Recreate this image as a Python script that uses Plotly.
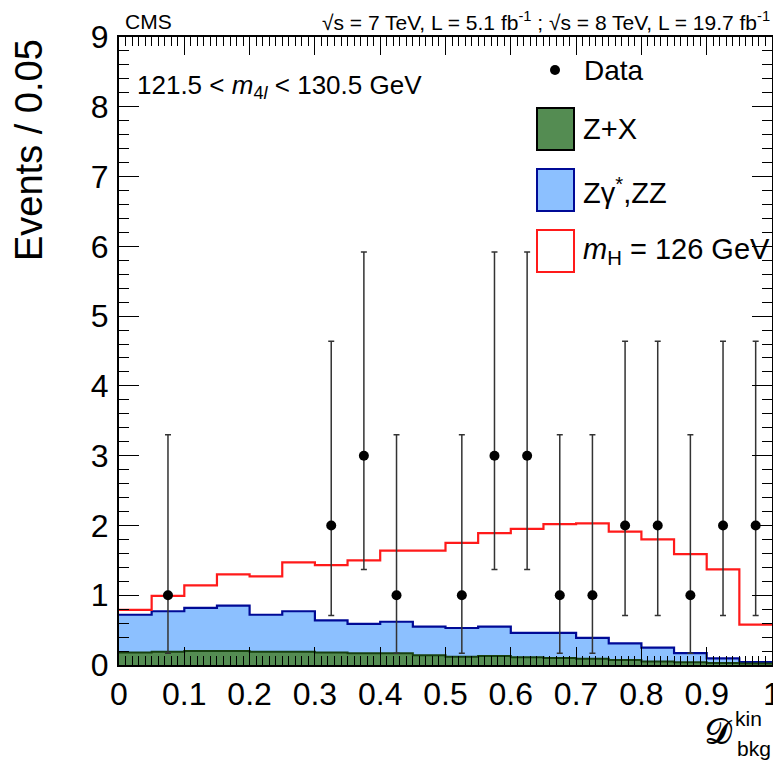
import numpy as np
import plotly.graph_objects as go

# ---------------- data ----------------
bin_edges = [round(0.05 * i, 2) for i in range(21)]
zx_vals = [0.18, 0.19, 0.20, 0.20, 0.19, 0.19, 0.18, 0.17, 0.17, 0.14,
           0.12, 0.13, 0.11, 0.10, 0.09, 0.07, 0.05, 0.04, 0.03, 0.02]
zz_vals = [0.54, 0.58, 0.62, 0.65, 0.53, 0.58, 0.46, 0.42, 0.45, 0.41,
           0.41, 0.42, 0.35, 0.36, 0.30, 0.24, 0.20, 0.13, 0.065, 0.02]
sig_vals = [0.07, 0.22, 0.32, 0.45, 0.55, 0.70, 0.79, 0.91, 1.02, 1.09,
            1.22, 1.34, 1.49, 1.56, 1.64, 1.60, 1.55, 1.42, 1.275, 0.54]

data_x = [0.075, 0.325, 0.375, 0.425, 0.525, 0.575, 0.625, 0.675, 0.725,
          0.775, 0.825, 0.875, 0.925, 0.975]
data_y = [1, 2, 3, 1, 1, 3, 3, 1, 1, 2, 2, 1, 2, 2]
err_up = [2.30, 2.64, 2.92, 2.30, 2.30, 2.92, 2.92, 2.30, 2.30, 2.64, 2.64, 2.30, 2.64, 2.64]
err_dn = [0.83, 1.29, 1.63, 0.83, 0.83, 1.63, 1.63, 0.83, 0.83, 1.29, 1.29, 0.83, 1.29, 1.29]

x_ticks = [0, 0.1, 0.2, 0.3, 0.4, 0.5, 0.6, 0.7, 0.8, 0.9, 1]
x_tick_text = ["0", "0.1", "0.2", "0.3", "0.4", "0.5", "0.6", "0.7", "0.8", "0.9", "1"]
y_ticks = [0, 1, 2, 3, 4, 5, 6, 7, 8, 9]

# ---------------- derived stacks ----------------
zx = np.array(zx_vals)
bkg = zx + np.array(zz_vals)
tot = bkg + np.array(sig_vals)

def step(v):
    v = list(v)
    return v + [v[-1]]

FONT = "Liberation Sans, Arial, Helvetica, sans-serif"
GREEN_FILL = "#548c52"
GREEN_LINE = "#17400f"
BLUE_FILL = "#8cc0ff"
BLUE_LINE = "#000a96"
RED = "#ff1a1a"

fig = go.Figure()
fig.add_trace(go.Scatter(x=bin_edges, y=step(bkg), mode="lines", line_shape="hv",
                         line=dict(color=BLUE_LINE, width=2.2), fill="tozeroy",
                         fillcolor=BLUE_FILL, showlegend=False, hoverinfo="skip"))
fig.add_trace(go.Scatter(x=bin_edges, y=step(zx), mode="lines", line_shape="hv",
                         line=dict(color=GREEN_LINE, width=2), fill="tozeroy",
                         fillcolor=GREEN_FILL, showlegend=False, hoverinfo="skip"))
fig.add_trace(go.Scatter(x=bin_edges, y=step(tot), mode="lines", line_shape="hv",
                         line=dict(color=RED, width=2.2), showlegend=False, hoverinfo="skip"))
fig.add_trace(go.Scatter(x=data_x, y=data_y, mode="markers",
                         marker=dict(color="black", size=10),
                         error_y=dict(type="data", symmetric=False, array=err_up,
                                      arrayminus=err_dn, color="#333333",
                                      thickness=1.5, width=3),
                         showlegend=False))

axis_common = dict(showline=True, linecolor="black", linewidth=2, mirror="allticks",
                   ticks="inside", tickcolor="black", showgrid=False, zeroline=False,
                   automargin=False,
                   tickfont=dict(family=FONT, size=32, color="black"))

fig.update_xaxes(range=[0, 1], tickvals=x_ticks, ticktext=x_tick_text, ticklen=18,
                 tickwidth=1.2, ticklabelstandoff=0,
                 minor=dict(ticks="inside", dtick=0.01, tick0=0, ticklen=9,
                            tickcolor="black", tickwidth=1, showgrid=False),
                 **axis_common)
fig.update_yaxes(range=[0, 9], tickvals=y_ticks, ticklen=20, tickwidth=1.2,
                 ticklabelstandoff=2,
                 minor=dict(ticks="inside", dtick=0.2, tick0=0, ticklen=10,
                            tickcolor="black", tickwidth=1, showgrid=False),
                 **axis_common)

# The page body has an 8px margin, so the figure sits at (8, 8) on screen.
OFF = 8
W, H = 781 - OFF, 761 - OFF
L, R, T, B = 119 - OFF, 9, 37 - OFF, 96
pw, ph = W - L - R, H - T - B

# helpers converting screen pixel positions to paper coordinates
def px(x):
    return (x - OFF - L) / pw

def py(y):
    return (H - B - (y - OFF)) / ph

annotations = []
shapes = []

def text(x, y, s, size, xanchor="left", yanchor="middle", angle=0, family=FONT):
    annotations.append(dict(x=px(x), y=py(y), xref="paper", yref="paper", text=s,
                            showarrow=False, xanchor=xanchor, yanchor=yanchor,
                            textangle=angle,
                            font=dict(family=family, size=size, color="black")))

# header
text(123, 21, "CMS", 21)
text(772, 21, "√s = 7 TeV, L = 5.1 fb<sup>-1</sup> ; √s = 8 TeV, L = 19.7 fb<sup>-1</sup>",
     21, xanchor="right")
# mass window label
text(135, 87, "121.5 &lt; <i>m</i><sub>4<i>l</i></sub> &lt; 130.5 GeV", 26)
# y title
text(29, 150, "Events / 0.05", 38, xanchor="center", angle=-90)
# x title
text(735, 731, "𝓓", 34, xanchor="right", family="DejaVu Serif, serif")
text(733, 718, "kin", 21)
text(735, 748, "bkg", 21)

# legend
shapes.append(dict(type="circle", xref="paper", yref="paper",
                   x0=px(550), x1=px(560), y0=py(75), y1=py(65),
                   fillcolor="black", line=dict(color="black", width=0)))
text(582, 70, "Data", 28)

def legbox(y0, y1, fill, line):
    shapes.append(dict(type="rect", xref="paper", yref="paper",
                       x0=px(537), x1=px(574), y0=py(y1), y1=py(y0),
                       fillcolor=fill, line=dict(color=line, width=2)))

legbox(108, 150, GREEN_FILL, "black")
text(581, 129, "Z+X", 29)
legbox(169, 211, BLUE_FILL, BLUE_LINE)
text(581, 191, "Zγ<sup>*</sup>,ZZ", 29)
legbox(230, 272, "white", RED)
text(581, 251, "<i>m</i><sub>H</sub> = 126 GeV", 29)

fig.update_layout(width=W, height=H, margin=dict(l=L, r=R, t=T, b=B),
                  paper_bgcolor="white", plot_bgcolor="white",
                  annotations=annotations, shapes=shapes,
                  font=dict(family=FONT, color="black"))

fig.write_html("out.html")
